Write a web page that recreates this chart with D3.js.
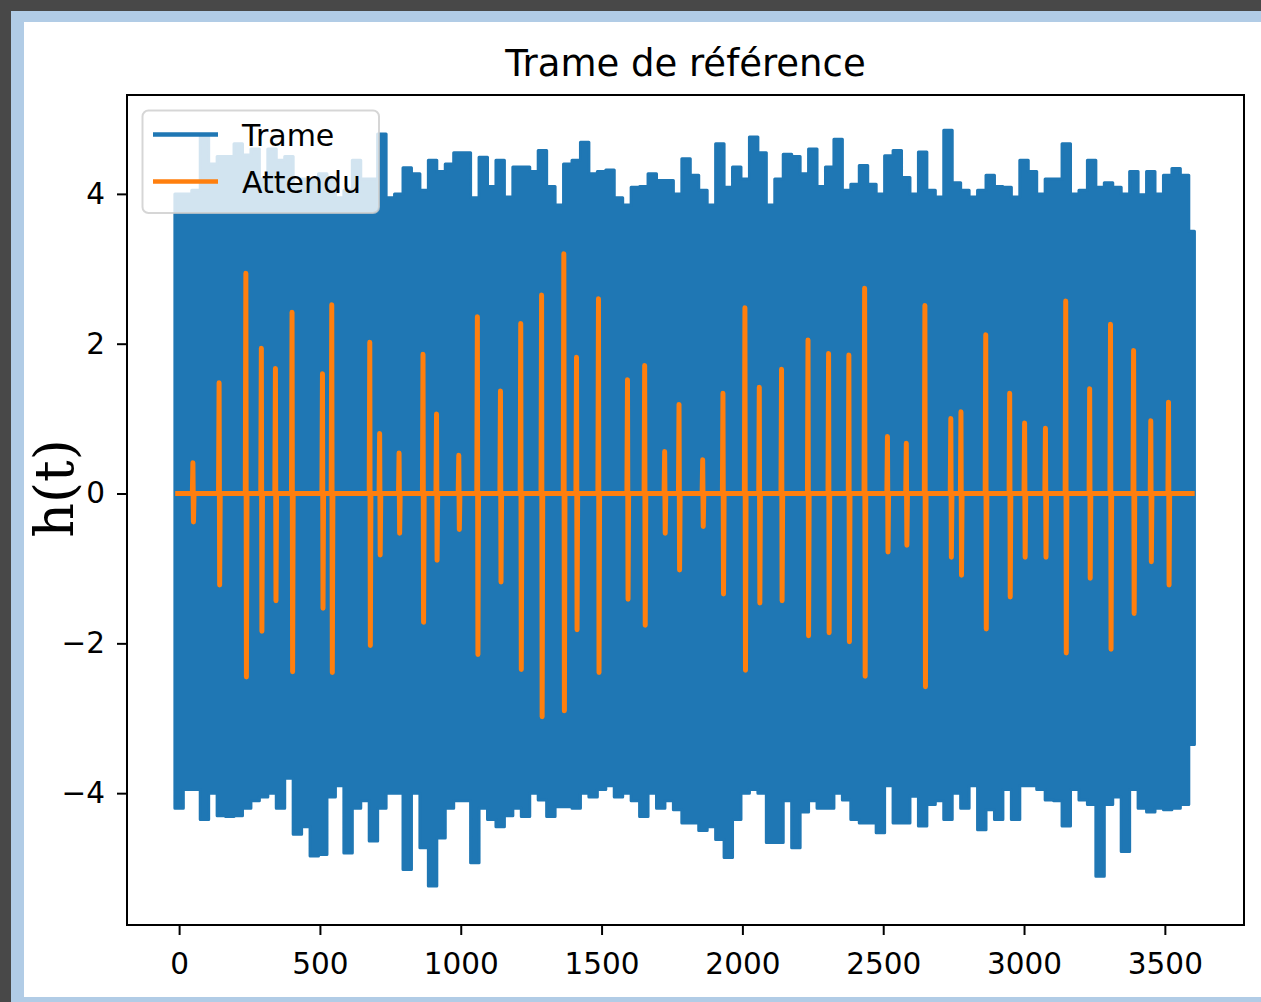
<!DOCTYPE html>
<html>
<head>
<meta charset="utf-8">
<script src="https://cdn.jsdelivr.net/npm/d3@7"></script>
<style>
  html, body { margin: 0; padding: 0; background: #484848; }
  svg { display: block; }
</style>
</head>
<body>
<svg id="chart" width="1261" height="1002"></svg>
<script>
// ---- Trame: extremes of the received frame, one pair per bin of 30 samples ----
const trameStart = -15;
const trameStep = 30;
const trameEnd = 3605;
const trameMax = [
  4.0, 4.0, 4.05, 4.76, 4.4, 4.5, 4.5, 4.67, 4.52, 4.6,
  4.2, 4.6, 4.45, 4.5, 4.1, 4.2, 4.18, 4.27, 4.22, 3.95,
  4.05, 4.45, 4.2, 4.2, 4.8, 3.95, 4.0, 4.35, 4.27, 4.05,
  4.45, 4.3, 4.4, 4.55, 4.55, 3.95, 4.49, 4.1, 4.45, 3.96,
  4.36, 4.36, 4.3, 4.58, 4.1, 3.85, 4.4, 4.45, 4.69, 4.27,
  4.3, 4.32, 3.95, 3.85, 4.09, 4.1, 4.27, 4.18, 4.18, 4.0,
  4.47, 4.25, 4.05, 3.85, 4.67, 4.09, 4.36, 4.2, 4.76, 4.55,
  3.85, 4.2, 4.53, 4.5, 4.27, 4.6, 4.1, 4.36, 4.73, 4.05,
  4.13, 4.38, 4.13, 4.0, 4.51, 4.58, 4.22, 4.0, 4.56, 4.05,
  3.96, 4.85, 4.15, 4.05, 3.96, 4.05, 4.25, 4.1, 4.09, 3.96,
  4.45, 4.3, 4.0, 4.2, 4.2, 4.67, 4.0, 4.05, 4.45, 4.09,
  4.15, 4.09, 4.0, 4.3, 3.99, 4.3, 4.0, 4.25, 4.34, 4.25,
  3.5
];
const trameMin = [
  -4.2, -3.95, -3.95, -4.35, -4.0, -4.3, -4.31, -4.3, -4.2, -4.1,
  -4.05, -4.0, -4.2, -3.8, -4.55, -4.45, -4.84, -4.82, -4.05, -3.9,
  -4.8, -4.2, -4.1, -4.64, -4.2, -4.0, -4.0, -5.02, -4.0, -4.73,
  -5.24, -4.6, -4.2, -4.1, -4.1, -4.93, -4.2, -4.35, -4.45, -4.3,
  -4.2, -4.31, -4.0, -4.09, -4.31, -4.18, -4.18, -4.2, -4.0, -4.05,
  -3.95, -3.9, -4.05, -4.0, -4.1, -4.31, -4.0, -4.2, -4.1, -4.22,
  -4.4, -4.4, -4.5, -4.45, -4.62, -4.86, -4.35, -4.0, -3.95, -4.0,
  -4.66, -4.66, -4.1, -4.73, -4.25, -4.1, -4.2, -4.2, -4.0, -4.09,
  -4.35, -4.4, -4.4, -4.53, -3.9, -4.4, -4.4, -4.04, -4.44, -4.15,
  -4.1, -4.35, -4.0, -4.2, -3.9, -4.49, -4.22, -4.35, -3.95, -4.35,
  -3.9, -3.9, -3.95, -4.09, -4.1, -4.44, -3.95, -4.09, -4.15, -5.11,
  -4.15, -4.05, -4.78, -3.95, -4.2, -4.25, -4.2, -4.22, -4.2, -4.15,
  -3.35
];

// ---- Attendu: expected pulses (position, peak, trough) on a zero baseline ----
const attenduStart = -5;
const attenduEnd = 3597;
const attenduPos = [
  50, 143, 238, 293, 343, 402, 510, 543, 678, 713,
  782, 867, 915, 994, 1060, 1142, 1214, 1288, 1367, 1412,
  1490, 1593, 1654, 1725, 1776, 1860, 1932, 2010, 2061, 2140,
  2234, 2307, 2379, 2435, 2516, 2583, 2649, 2741, 2777, 2865,
  2950, 3003, 3077, 3149, 3234, 3308, 3390, 3451, 3514
];
const attenduMax = [
  0.41, 1.48, 2.94, 1.94, 1.67, 2.42, 1.60, 2.52, 2.02, 0.80,
  0.54, 1.86, 1.06, 0.51, 2.36, 1.37, 2.27, 2.65, 3.20, 1.82,
  2.60, 1.52, 1.71, 0.56, 1.19, 0.45, 1.34, 2.48, 1.42, 1.66,
  2.05, 1.87, 1.85, 2.74, 0.76, 0.67, 2.51, 1.00, 1.09, 2.12,
  1.34, 0.94, 0.87, 2.57, 1.40, 2.26, 1.91, 0.97, 1.22
];
const attenduMin = [
  -0.38, -1.22, -2.45, -1.84, -1.43, -2.38, -1.53, -2.39, -2.03, -0.82,
  -0.53, -1.72, -0.89, -0.48, -2.15, -1.18, -2.35, -2.98, -2.90, -1.82,
  -2.39, -1.41, -1.76, -0.53, -1.02, -0.44, -1.34, -2.36, -1.46, -1.43,
  -1.90, -1.86, -1.98, -2.44, -0.78, -0.69, -2.58, -0.85, -1.09, -1.81,
  -1.38, -0.85, -0.85, -2.13, -1.13, -2.08, -1.60, -0.91, -1.22
];

// ---- Axes, labels ----
const xTicks = [0, 500, 1000, 1500, 2000, 2500, 3000, 3500];
const yTicks = [-4, -2, 0, 2, 4];
const xDomain = [-185, 3781];
const yDomain = [-5.76, 5.32];
const title = "Trame de référence";
const yLabel = "h(t)";
const seriesNames = ["Trame", "Attendu"];
const seriesColors = ["#1f77b4", "#ff7f0e"];

// ---- Layout ----
const W = 1261, H = 1002;
const plot = { left: 127, right: 1244, top: 95, bottom: 925 };
const tickFont = "'DejaVu Sans', Verdana, sans-serif";

const svg = d3.select("#chart");

// window frame around the figure
svg.append("rect").attr("x", 0).attr("y", 0).attr("width", W).attr("height", H).attr("fill", "#484848");
svg.append("rect").attr("x", 11).attr("y", 11).attr("width", W - 11).attr("height", H - 11).attr("fill", "#b1cce6");
svg.append("rect").attr("x", 24).attr("y", 22).attr("width", W - 24).attr("height", 997 - 22).attr("fill", "#ffffff");

const x = d3.scaleLinear().domain(xDomain).range([plot.left, plot.right]);
const y = d3.scaleLinear().domain(yDomain).range([plot.bottom, plot.top]);

svg.append("clipPath").attr("id", "plot-clip")
  .append("rect")
  .attr("x", plot.left).attr("y", plot.top)
  .attr("width", plot.right - plot.left).attr("height", plot.bottom - plot.top);

const gPlot = svg.append("g").attr("clip-path", "url(#plot-clip)");

// Trame: band between per-bin minima and maxima
const trameBins = trameMax.map((v, i) => ({ t: trameStart + i * trameStep, hi: v, lo: trameMin[i] }));
trameBins.push({ t: trameEnd, hi: trameMax[trameMax.length - 1], lo: trameMin[trameMin.length - 1] });

const trameArea = d3.area()
  .x(d => x(d.t))
  .y0(d => y(d.lo))
  .y1(d => y(d.hi))
  .curve(d3.curveStepAfter);

gPlot.append("path")
  .datum(trameBins)
  .attr("d", trameArea)
  .attr("fill", seriesColors[0])
  .attr("stroke", seriesColors[0])
  .attr("stroke-width", 3)
  .attr("stroke-linejoin", "round");

// Attendu: zero baseline with one short pulse per position
const attenduPts = [[attenduStart, 0]];
attenduPos.forEach((p, i) => {
  attenduPts.push([p - 3, 0], [p - 1, attenduMax[i]], [p + 1, attenduMin[i]], [p + 3, 0]);
});
attenduPts.push([attenduEnd, 0]);

const line = d3.line().x(d => x(d[0])).y(d => y(d[1]));
gPlot.append("path")
  .datum(attenduPts)
  .attr("d", line)
  .attr("fill", "none")
  .attr("stroke", seriesColors[1])
  .attr("stroke-width", 5)
  .attr("stroke-linejoin", "round")
  .attr("stroke-linecap", "square");

// x axis
const xAxis = svg.append("g")
  .attr("transform", `translate(0,${plot.bottom})`)
  .call(d3.axisBottom(x).tickValues(xTicks).tickSize(10).tickPadding(18).tickFormat(d3.format("d")));
xAxis.select(".domain").remove();
xAxis.selectAll(".tick line").attr("stroke", "#000").attr("stroke-width", 2);
xAxis.selectAll(".tick text")
  .attr("fill", "#000")
  .style("font-family", tickFont)
  .style("font-size", "29.5px");

// y axis
const yAxis = svg.append("g")
  .attr("transform", `translate(${plot.left},0)`)
  .call(d3.axisLeft(y).tickValues(yTicks).tickSize(10).tickPadding(12).tickFormat(d3.format("d")));
yAxis.select(".domain").remove();
yAxis.selectAll(".tick line").attr("stroke", "#000").attr("stroke-width", 2);
yAxis.selectAll(".tick text")
  .attr("fill", "#000")
  .style("font-family", tickFont)
  .style("font-size", "29.5px");

// plot frame
svg.append("rect")
  .attr("x", plot.left).attr("y", plot.top)
  .attr("width", plot.right - plot.left).attr("height", plot.bottom - plot.top)
  .attr("fill", "none").attr("stroke", "#000").attr("stroke-width", 2);

// title
svg.append("text")
  .attr("x", (plot.left + plot.right) / 2)
  .attr("y", 76)
  .attr("text-anchor", "middle")
  .attr("fill", "#000")
  .style("font-family", tickFont)
  .style("font-size", "37px")
  .text(title);

// y label
svg.append("text")
  .attr("transform", `translate(73,${(plot.top + plot.bottom) / 2 - 21.5}) rotate(-90)`)
  .attr("text-anchor", "middle")
  .attr("fill", "#000")
  .style("font-family", "'DejaVu Serif', serif")
  .style("font-size", "54px")
  .text(yLabel);

// legend
const legend = svg.append("g");
legend.append("rect")
  .attr("x", 142.5).attr("y", 110.5)
  .attr("width", 236.5).attr("height", 102.5)
  .attr("rx", 6).attr("ry", 6)
  .attr("fill", "#ffffff").attr("fill-opacity", 0.8)
  .attr("stroke", "#cccccc").attr("stroke-opacity", 0.8).attr("stroke-width", 2);

seriesNames.forEach((name, i) => {
  const cy = 134.5 + i * 47;
  legend.append("line")
    .attr("x1", 153).attr("x2", 218)
    .attr("y1", cy).attr("y2", cy)
    .attr("stroke", seriesColors[i]).attr("stroke-width", 4.5);
  legend.append("text")
    .attr("x", 242).attr("y", cy + 11.5)
    .attr("fill", "#000")
    .style("font-family", tickFont)
    .style("font-size", "30px")
    .text(name);
});
</script>
</body>
</html>
